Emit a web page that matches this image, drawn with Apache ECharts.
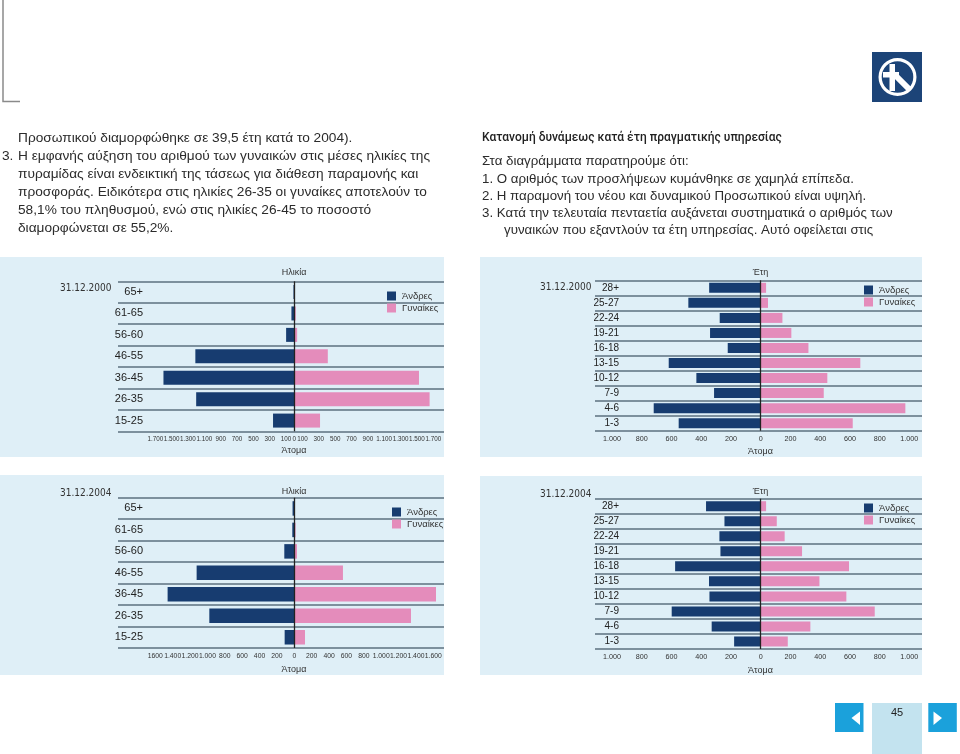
<!DOCTYPE html>
<html>
<head>
<meta charset="utf-8">
<script src="https://cdn.jsdelivr.net/npm/echarts@6/dist/echarts.min.js"></script>
<style>
html,body{margin:0;padding:0;background:#fff;}
#c{width:960px;height:754px;}
</style>
</head>
<body>
<div id="c"></div>
<script>
// ---------- DATA ----------
const ageGroups = ['65+', '61-65', '56-60', '46-55', '36-45', '26-35', '15-25'];
const serviceGroups = ['28+', '25-27', '22-24', '19-21', '16-18', '13-15', '10-12', '7-9', '4-6', '1-3'];

const men2000Age = [10, 35, 100, 1210, 1600, 1200, 260];
const women2000Age = [5, 18, 35, 410, 1525, 1655, 315];
const men2000Service = [347, 487, 276, 341, 222, 619, 433, 314, 720, 552];
const women2000Service = [36, 49, 146, 206, 321, 670, 448, 424, 973, 619];

const men2004Age = [20, 23, 115, 1124, 1458, 978, 111];
const women2004Age = [3, 15, 31, 560, 1631, 1343, 123];
const men2004Service = [368, 244, 278, 271, 576, 348, 345, 599, 330, 179];
const women2004Service = [36, 108, 161, 278, 594, 395, 576, 767, 334, 182];

const ageTicks2000 = [-1700, -1500, -1300, -1100, -900, -700, -500, -300, -100, 0, 100, 300, 500, 700, 900, 1100, 1300, 1500, 1700];
const ageTickLabels2000 = ['1.700', '1.500', '1.300', '1.100', '900', '700', '500', '300', '100', '0', '100', '300', '500', '700', '900', '1.100', '1.300', '1.500', '1.700'];
const ageTicks2004 = [-1600, -1400, -1200, -1000, -800, -600, -400, -200, 0, 200, 400, 600, 800, 1000, 1200, 1400, 1600];
const ageTickLabels2004 = ['1600', '1.400', '1.200', '1.000', '800', '600', '400', '200', '0', '200', '400', '600', '800', '1.000', '1.200', '1.400', '1.600'];
const serviceTicks = [-1000, -800, -600, -400, -200, 0, 200, 400, 600, 800, 1000];
const serviceTickLabels = ['1.000', '800', '600', '400', '200', '0', '200', '400', '600', '800', '1.000'];

const seriesNames = ['Άνδρες', 'Γυναίκες'];

// ---------- STYLE ----------
const NAVY = '#173c70', PINK = '#e48cbb', PANEL = '#dfeff7', GRIDLINE = '#5d717f';
const SANS = "'Liberation Sans', Arial, sans-serif";
const NARROW = "'DejaVu Sans Condensed', 'Liberation Sans', sans-serif";

const panels = [
  {grid: {left: 118, top: 281.3, width: 326, height: 150}, min: -2156, max: 1831,
   cats: ageGroups, men: men2000Age, women: women2000Age, ticks: ageTicks2000, labels: ageTickLabels2000,
   barWidth: 14, catMargin: -25, catSize: 11, tickSize: 6.3,
   legend: {left: 387, top: 291}},
  {grid: {left: 595, top: 280.3, width: 327, height: 150.4}, min: -1115, max: 1085,
   cats: serviceGroups, men: men2000Service, women: women2000Service, ticks: serviceTicks, labels: serviceTickLabels,
   barWidth: 10, catMargin: -24, catSize: 10, tickSize: 7.2,
   legend: {left: 864, top: 285}},
  {grid: {left: 118, top: 497.7, width: 326, height: 150.3}, min: -2029, max: 1723,
   cats: ageGroups, men: men2004Age, women: women2004Age, ticks: ageTicks2004, labels: ageTickLabels2004,
   barWidth: 14.5, catMargin: -25, catSize: 11, tickSize: 6.8,
   legend: {left: 392, top: 507}},
  {grid: {left: 595, top: 498.7, width: 327, height: 150.3}, min: -1115, max: 1085,
   cats: serviceGroups, men: men2004Service, women: women2004Service, ticks: serviceTicks, labels: serviceTickLabels,
   barWidth: 10, catMargin: -24, catSize: 10, tickSize: 7.2,
   legend: {left: 864, top: 503}}
];

const grids = [], xAxes = [], yAxes = [], series = [], legends = [];
panels.forEach((p, i) => {
  grids.push(Object.assign({containLabel: false}, p.grid));
  xAxes.push({
    type: 'value', gridIndex: i, min: p.min, max: p.max,
    axisLine: {show: false}, axisTick: {show: false}, splitLine: {show: false},
    axisLabel: {
      customValues: p.ticks, showMinLabel: true, showMaxLabel: true, hideOverlap: false,
      formatter: (v) => { const k = p.ticks.indexOf(v); return k >= 0 ? p.labels[k] : ''; },
      fontFamily: SANS, fontSize: p.tickSize, color: '#333', margin: 5
    }
  });
  yAxes.push({
    type: 'category', gridIndex: i, data: p.cats, inverse: true,
    axisLine: {show: false}, axisTick: {show: false},
    axisLabel: {interval: 0, margin: p.catMargin, fontFamily: SANS, fontSize: p.catSize, color: '#222'},
    splitLine: {show: true, interval: 0, lineStyle: {color: GRIDLINE, width: 1.5}}
  });
  series.push({
    name: seriesNames[0], type: 'bar', xAxisIndex: i, yAxisIndex: i,
    data: p.men.map(v => -v), barWidth: p.barWidth, barGap: '-100%',
    itemStyle: {color: NAVY}, z: 3,
    markLine: {silent: true, symbol: ['none', 'none'], label: {show: false},
      lineStyle: {color: '#222', width: 1.3, type: 'solid'}, data: [{xAxis: 0}], z: 5}
  });
  series.push({
    name: seriesNames[1], type: 'bar', xAxisIndex: i, yAxisIndex: i,
    data: p.women, barWidth: p.barWidth, barGap: '-100%',
    itemStyle: {color: PINK}, z: 3
  });
  legends.push({
    data: seriesNames, orient: 'vertical', left: p.legend.left, top: p.legend.top,
    padding: 0, itemWidth: 9, itemHeight: 9, itemGap: 2, icon: 'rect', selectedMode: false,
    textStyle: {fontFamily: SANS, fontSize: 9.5, color: '#333', padding: [0, 0, 0, 1]}
  });
});

// ---------- PAGE GRAPHICS ----------
function T(x, y, text, o) {
  o = o || {};
  return {type: 'text', x: x, y: y, silent: true, z: 10,
    style: {text: text, fill: o.fill || '#2b2b2b', fontFamily: o.family || SANS, fontSize: o.size || 13.7,
      fontWeight: o.weight || 'normal',
      align: o.align || 'left', textAlign: o.align || 'left',
      verticalAlign: 'middle', textVerticalAlign: 'middle'}};
}
const g = [];
// panel backgrounds
g.push({type: 'rect', z: -10, silent: true, shape: {x: 0, y: 257, width: 444, height: 200}, style: {fill: PANEL}});
g.push({type: 'rect', z: -10, silent: true, shape: {x: 480, y: 257, width: 442, height: 200}, style: {fill: PANEL}});
g.push({type: 'rect', z: -10, silent: true, shape: {x: 0, y: 475, width: 444, height: 200}, style: {fill: PANEL}});
g.push({type: 'rect', z: -10, silent: true, shape: {x: 480, y: 476, width: 442, height: 199}, style: {fill: PANEL}});
// corner mark
g.push({type: 'polyline', silent: true, shape: {points: [[3, 0], [3, 101.5], [20, 101.5]]}, style: {stroke: '#8a8a8a', lineWidth: 1.5, fill: null}});
// logo
g.push({type: 'rect', silent: true, shape: {x: 872, y: 52, width: 50, height: 50}, style: {fill: '#1c4478'}});
g.push({type: 'ring', silent: true, shape: {cx: 897.5, cy: 77, r: 19, r0: 15.8}, style: {fill: '#fff'}});
g.push({type: 'rect', silent: true, shape: {x: 889.5, y: 64, width: 5.5, height: 27}, style: {fill: '#fff'}});
g.push({type: 'rect', silent: true, shape: {x: 883, y: 72, width: 16, height: 5.5}, style: {fill: '#fff'}});
g.push({type: 'line', silent: true, shape: {x1: 896, y1: 76, x2: 909, y2: 89}, style: {stroke: '#fff', lineWidth: 6}});
// left text
g.push(T(18, 138.3, 'Προσωπικού διαμορφώθηκε σε 39,5 έτη κατά το 2004).'));
g.push(T(2, 156, '3.'));
g.push(T(18, 156, 'Η εμφανής αύξηση του αριθμού των γυναικών στις μέσες ηλικίες της'));
g.push(T(18, 174, 'πυραμίδας είναι ενδεικτική της τάσεως για διάθεση παραμονής και'));
g.push(T(18, 192, 'προσφοράς. Ειδικότερα στις ηλικίες 26-35 οι γυναίκες αποτελούν το'));
g.push(T(18, 210, '58,1% του πληθυσμού, ενώ στις ηλικίες 26-45 το ποσοστό'));
g.push(T(18, 228, 'διαμορφώνεται σε 55,2%.'));
// right text
const R = {size: 13.3};
g.push(T(482, 138.3, 'Κατανομή δυνάμεως κατά έτη πραγματικής υπηρεσίας', {family: "Roboto, 'Liberation Sans', sans-serif", size: 12, weight: 500, fill: '#222'}));
g.push(T(482, 161, 'Στα διαγράμματα παρατηρούμε ότι:', R));
g.push(T(482, 179, '1. Ο αριθμός των προσλήψεων κυμάνθηκε σε χαμηλά επίπεδα.', R));
g.push(T(482, 196, '2. Η παραμονή του νέου και δυναμικού Προσωπικού είναι υψηλή.', R));
g.push(T(482, 213.3, '3. Κατά την τελευταία πενταετία αυξάνεται συστηματικά ο αριθμός των', R));
g.push(T(504, 230.7, 'γυναικών που εξαντλούν τα έτη υπηρεσίας. Αυτό οφείλεται στις', R));
// panel labels
const small = {family: NARROW, size: 10, fill: '#333'};
g.push(T(60, 288, '31.12.2000', small));
g.push(T(540, 287, '31.12.2000', small));
g.push(T(60, 493.7, '31.12.2004', small));
g.push(T(540, 494, '31.12.2004', small));
const axn = {family: SANS, size: 9, fill: '#333', align: 'center'};
g.push(T(294, 273, 'Ηλικία', axn));
g.push(T(760.5, 273, 'Έτη', axn));
g.push(T(294, 491.3, 'Ηλικία', axn));
g.push(T(760.5, 492, 'Έτη', axn));
g.push(T(294, 451, 'Άτομα', axn));
g.push(T(760.5, 452, 'Άτομα', axn));
g.push(T(294, 669.7, 'Άτομα', axn));
g.push(T(760.5, 671, 'Άτομα', axn));
// navigation
g.push({type: 'rect', silent: true, shape: {x: 835, y: 703, width: 28.5, height: 29}, style: {fill: '#1ba1db'}});
g.push({type: 'polygon', silent: true, shape: {points: [[851.5, 718], [860, 711.5], [860, 725]]}, style: {fill: '#fff'}});
g.push({type: 'rect', silent: true, shape: {x: 872, y: 703, width: 50, height: 51}, style: {fill: '#c3e3ef'}});
g.push(T(897, 713, '45', {family: SANS, size: 11, fill: '#222', align: 'center'}));
g.push({type: 'rect', silent: true, shape: {x: 928.3, y: 703, width: 28.5, height: 29}, style: {fill: '#1ba1db'}});
g.push({type: 'polygon', silent: true, shape: {points: [[942, 718], [933.5, 711.5], [933.5, 725]]}, style: {fill: '#fff'}});

const chart = echarts.init(document.getElementById('c'), null, {renderer: 'canvas'});
chart.setOption({
  animation: false,
  backgroundColor: '#ffffff',
  grid: grids, xAxis: xAxes, yAxis: yAxes, series: series, legend: legends,
  graphic: {elements: g}
});
</script>
</body>
</html>
